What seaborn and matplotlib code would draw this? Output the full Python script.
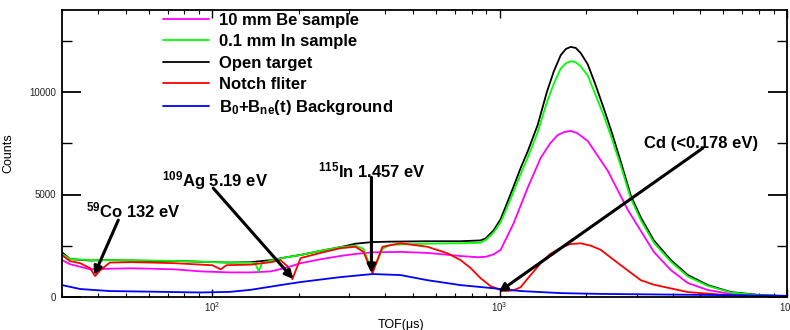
import numpy as np
import pandas as pd
import matplotlib
matplotlib.use('Agg')
import matplotlib.pyplot as plt
import seaborn as sns
from matplotlib.ticker import FixedLocator, LogLocator, NullFormatter

# ---------------- data ----------------
tof_open = [30, 32, 37.6, 44, 52, 61, 74, 91, 115, 136, 160, 183, 203, 238, 279, 315, 361, 417,
            561, 731, 858, 894, 930, 953, 1008, 1049, 1119, 1184, 1252, 1357, 1460, 1543, 1632,
            1700, 1768, 1840, 1915, 2026, 2150, 2304, 2460, 2640, 2861, 3099, 3440, 3944, 4520,
            5305, 6379, 8118, 10000]
counts_open = [2180, 1850, 1780, 1800, 1780, 1760, 1760, 1720, 1680, 1700, 1800, 1950, 2050, 2250,
               2430, 2600, 2680, 2700, 2720, 2720, 2760, 2860, 3100, 3250, 3800, 4400, 5400, 6300,
               7100, 8400, 10000, 11000, 11800, 12100, 12200, 12150, 11900, 11350, 10400, 9200,
               8000, 6600, 4950, 3880, 2760, 1800, 1070, 580, 240, 90, 40]

tof_in = [30, 32, 37.6, 44, 52, 61, 74, 91, 115, 136, 141, 145, 149, 160, 183, 203, 238, 279, 315,
          336, 350, 361, 373, 391, 417, 561, 731, 858, 894, 930, 953, 1008, 1049, 1119, 1184,
          1252, 1357, 1460, 1543, 1632, 1700, 1768, 1840, 1915, 2026, 2150, 2304, 2460, 2640,
          2861, 3099, 3440, 3944, 4520, 5305, 6379, 8118, 10000]
counts_in = [2100, 1850, 1800, 1800, 1800, 1780, 1760, 1720, 1680, 1680, 1650, 1250, 1650, 1780,
             1950, 2050, 2250, 2430, 2500, 2350, 1700, 1250, 1650, 2350, 2550, 2600, 2620, 2650,
             2780, 3000, 3150, 3650, 4200, 5150, 6000, 6800, 8050, 9500, 10400, 11150, 11400,
             11500, 11450, 11250, 10800, 9900, 8850, 7700, 6400, 4800, 3750, 2650, 1720, 1000,
             540, 220, 80, 40]

tof_be = [30, 32, 37.6, 44, 52, 61, 74, 91, 115, 136, 160, 183, 203, 238, 279, 315, 361, 452,
          561, 731, 838, 894, 953, 1008, 1119, 1252, 1390, 1500, 1593, 1680, 1768, 1860, 2026,
          2378, 2793, 3440, 3944, 4520, 5305, 6379, 8118, 10000]
counts_be = [1800, 1600, 1350, 1380, 1400, 1380, 1350, 1250, 1200, 1200, 1250, 1450, 1650, 1840,
             2000, 2100, 2180, 2200, 2150, 2000, 1940, 1960, 2080, 2300, 3600, 5330, 6790, 7500,
             7900, 8050, 8100, 8000, 7610, 6160, 4250, 2200, 1310, 680, 340, 150, 60, 30]

tof_notch = [30, 32, 34.7, 37.6, 39.1, 40.7, 44, 52, 61, 74, 91, 100, 107, 112, 136, 160, 172.6,
             182.6, 190, 197.8, 203, 238, 279, 315, 336, 350, 361, 373, 391, 452, 561, 659, 731,
             793, 858, 930, 1008, 1049, 1119, 1184, 1252, 1390, 1500, 1632, 1760, 1915, 2080,
             2248, 2640, 3099, 3440, 4520, 6379, 10000]
counts_notch = [2040, 1750, 1650, 1400, 1020, 1300, 1680, 1700, 1680, 1650, 1580, 1550, 1350, 1550,
                1580, 1700, 1800, 1500, 870, 1500, 1900, 2150, 2380, 2450, 2200, 1600, 1160, 1700,
                2450, 2620, 2450, 2130, 1800, 1410, 920, 530, 340, 290, 330, 480, 900, 1650, 2100,
                2400, 2580, 2620, 2500, 2300, 1550, 820, 600, 240, 80, 20]

tof_bg = [30, 34.7, 44, 61, 91, 115, 136, 172.6, 203, 279, 361, 452, 561, 731, 930, 1184, 1632,
          2248, 5305, 10000]
counts_bg = [580, 390, 290, 260, 220, 250, 350, 580, 730, 970, 1120, 1070, 820, 580, 440, 290, 190,
             150, 100, 60]

labels = ['10 mm Be sample', '0.1 mm In sample', 'Open target', 'Notch fliter',
          r'B$\mathdefault{_0}$+B$\mathdefault{_{ne}}$(t) Background']
colors = ['#ff00ff', '#00ff00', '#000000', '#ff0000', '#0000ff']

# ---------------- style ----------------
sns.set_style('white')
plt.rcParams['font.family'] = ['Liberation Sans', 'DejaVu Sans']
plt.rcParams['mathtext.fontset'] = 'custom'
plt.rcParams['mathtext.rm'] = 'Liberation Sans'
plt.rcParams['text.color'] = 'black'
plt.rcParams['axes.labelcolor'] = 'black'

fig = plt.figure(figsize=(7.9, 3.3), dpi=100)
ax = fig.add_axes([62 / 790, 33 / 330, 725 / 790, 287 / 330])

series = [
    (tof_open, counts_open, 2),
    (tof_be, counts_be, 0),
    (tof_in, counts_in, 1),
    (tof_notch, counts_notch, 3),
    (tof_bg, counts_bg, 4),
]
for tof, cnt, idx in series:
    df = pd.DataFrame({'tof': tof, 'counts': cnt})
    sns.lineplot(data=df, x='tof', y='counts', color=colors[idx], lw=1.3,
                 label=labels[idx], ax=ax, sort=False, estimator=None)

ax.set_xscale('log')
ax.set_xlim(30, 10000)
ax.set_ylim(0, 14000)

ax.yaxis.set_major_locator(FixedLocator([0, 5000, 10000]))
ax.yaxis.set_minor_locator(FixedLocator([2500, 7500, 12500]))
ax.xaxis.set_minor_locator(LogLocator(base=10, subs=np.arange(2, 10)))
ax.xaxis.set_minor_formatter(NullFormatter())

ax.tick_params(which='both', direction='in', top=True, right=True, left=True, bottom=True,
               colors='black', labelsize=7, labelcolor='#222222')
ax.tick_params(axis='y', which='major', length=14, width=1.3, pad=4)
ax.tick_params(axis='y', which='minor', length=7, width=1.0)
ax.tick_params(axis='x', which='major', length=6, width=1.0, pad=2)
ax.tick_params(axis='x', which='minor', length=3, width=0.8)
for sp in ax.spines.values():
    sp.set_linewidth(1.3)
    sp.set_color('black')

ax.set_xlabel('TOF(\u03bcs)', fontsize=9)
ax.set_ylabel('Counts', fontsize=9)
ax.xaxis.set_label_coords(0.468, -0.075)
ax.yaxis.set_label_coords(-0.065, 0.5)

# legend in reference order
h, l = ax.get_legend_handles_labels()
order = [l.index(lab) for lab in labels]
leg = ax.legend([h[i] for i in order], [l[i] for i in order], loc='upper left',
                bbox_to_anchor=(0.139, 0.99), frameon=False, handlelength=2.8,
                handletextpad=0.6, borderpad=0, borderaxespad=0, labelspacing=0.38,
                prop={'family': 'Liberation Sans', 'weight': 'bold', 'size': 12})
for t in leg.get_texts():
    t.set_color('black')

# annotations
ann_font = dict(fontsize=12, fontweight='bold', family='Liberation Sans', va='baseline',
                color='black')
ax.text(36.4, 3900, r'$\mathdefault{^{59}}$Co 132 eV', **ann_font)
ax.text(66.9, 5400, r'$\mathdefault{^{109}}$Ag 5.19 eV', **ann_font)
ax.text(234, 5840, r'$\mathdefault{^{115}}$In 1.457 eV', **ann_font)
ax.text(3175, 7260, 'Cd (<0.178 eV)', **ann_font)

arrows = [((47.1, 3750), (38.8, 1070)),
          ((100.8, 5310), (191.5, 877)),
          ((358, 5840), (358, 1170)),
          ((5093, 7260), (992, 243))]
for start, tip in arrows:
    ax.annotate('', xy=tip, xytext=start,
                arrowprops=dict(arrowstyle='-|>', lw=2.2, color='black',
                                mutation_scale=12, shrinkA=0, shrinkB=0))

fig.savefig('out.png', dpi=100)
